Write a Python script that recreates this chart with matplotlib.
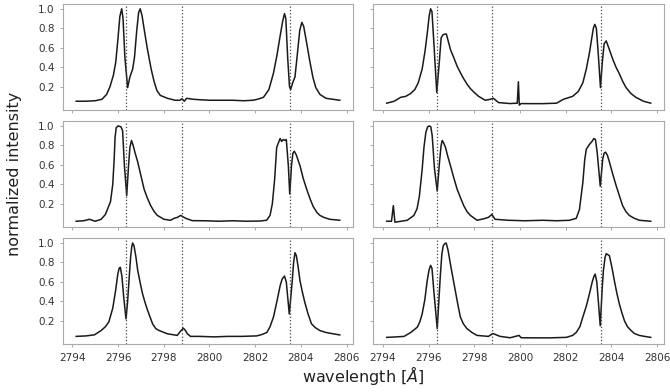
import numpy as np
import matplotlib.pyplot as plt

# line centres marked in every panel (Mg II k, subordinate, Mg II h)
line_centres = [2796.35, 2798.78, 2803.53]

wl_a = [2794.17, 2794.6, 2795.0, 2795.3, 2795.5, 2795.65, 2795.8, 2795.9, 2796.0, 2796.08,
        2796.16, 2796.22, 2796.3, 2796.42, 2796.52, 2796.64, 2796.72, 2796.82, 2796.9, 2796.97,
        2797.05, 2797.15, 2797.29, 2797.45, 2797.58, 2797.7, 2797.85, 2798.16, 2798.5, 2798.7,
        2798.8, 2798.9, 2799.0, 2799.15, 2799.3, 2799.6, 2800.0, 2800.5, 2801.0, 2801.5,
        2801.9, 2802.1, 2802.36, 2802.6, 2802.8, 2802.95, 2803.09, 2803.2, 2803.28, 2803.34,
        2803.42, 2803.5, 2803.55, 2803.64, 2803.74, 2803.85, 2803.95, 2804.04, 2804.12, 2804.25,
        2804.39, 2804.52, 2804.65, 2804.83, 2805.1, 2805.4, 2805.7]
int_a = [0.05, 0.05, 0.055, 0.07, 0.12, 0.2, 0.32, 0.45, 0.7, 0.92,
         1.0, 0.9, 0.5, 0.19, 0.3, 0.38, 0.5, 0.78, 0.96, 1.0,
         0.93, 0.78, 0.58, 0.38, 0.25, 0.16, 0.11, 0.08, 0.06, 0.06,
         0.075, 0.05, 0.08, 0.075, 0.07, 0.065, 0.06, 0.06, 0.06, 0.055,
         0.06, 0.07, 0.09, 0.17, 0.34, 0.52, 0.72, 0.87, 0.95, 0.9,
         0.5, 0.2, 0.17, 0.24, 0.3, 0.55, 0.78, 0.86, 0.82, 0.65,
         0.46, 0.3, 0.19, 0.12, 0.08, 0.07, 0.06]

wl_b = [2794.17, 2794.5, 2794.78, 2795.0, 2795.22, 2795.4, 2795.55, 2795.72, 2795.85, 2795.95,
        2796.03, 2796.09, 2796.15, 2796.22, 2796.36, 2796.47, 2796.55, 2796.62, 2796.7, 2796.78,
        2796.87, 2796.96, 2797.1, 2797.25, 2797.4, 2797.54, 2797.7, 2797.83, 2798.0, 2798.19,
        2798.48, 2798.7, 2798.84, 2799.06, 2799.57, 2799.88, 2799.93, 2799.97, 2800.05, 2800.5,
        2801.0, 2801.6, 2801.9, 2802.3, 2802.55, 2802.75, 2802.9, 2803.04, 2803.14, 2803.21,
        2803.27, 2803.34, 2803.42, 2803.52, 2803.6, 2803.68, 2803.77, 2803.88, 2804.06, 2804.2,
        2804.35, 2804.5, 2804.64, 2804.85, 2805.07, 2805.4, 2805.72]
int_b = [0.03, 0.05, 0.09, 0.1, 0.13, 0.17, 0.24, 0.38, 0.57, 0.76,
         0.93, 1.0, 0.97, 0.7, 0.14, 0.45, 0.7, 0.73, 0.74, 0.74,
         0.66, 0.58, 0.5, 0.41, 0.34, 0.28, 0.22, 0.18, 0.14, 0.1,
         0.06, 0.07, 0.08, 0.036, 0.026, 0.03, 0.25, 0.01, 0.026, 0.025,
         0.025, 0.03, 0.07, 0.1, 0.15, 0.24, 0.38, 0.55, 0.7, 0.8,
         0.84, 0.8, 0.55, 0.19, 0.45, 0.64, 0.67, 0.6, 0.48, 0.4,
         0.33, 0.25, 0.19, 0.13, 0.09, 0.05, 0.03]

wl_c = [2794.17, 2794.5, 2794.75, 2795.0, 2795.26, 2795.45, 2795.55, 2795.67, 2795.77, 2795.83,
        2795.87, 2795.92, 2796.0, 2796.13, 2796.2, 2796.28, 2796.38, 2796.46, 2796.52, 2796.59,
        2796.66, 2796.75, 2796.86, 2797.0, 2797.14, 2797.28, 2797.43, 2797.58, 2797.72, 2798.01,
        2798.3, 2798.45, 2798.6, 2798.74, 2798.96, 2799.25, 2799.8, 2800.4, 2801.0, 2801.6,
        2802.2, 2802.5, 2802.65, 2802.75, 2802.85, 2802.94, 2803.09, 2803.16, 2803.23, 2803.3,
        2803.36, 2803.45, 2803.51, 2803.59, 2803.65, 2803.71, 2803.8, 2803.96, 2804.1, 2804.25,
        2804.4, 2804.54, 2804.7, 2804.83, 2805.0, 2805.26, 2805.7]
int_c = [0.02, 0.025, 0.04, 0.02, 0.04, 0.09, 0.15, 0.22, 0.4, 0.65,
         0.88, 0.98, 1.0, 0.99, 0.95, 0.59, 0.285, 0.59, 0.78, 0.85,
         0.8, 0.72, 0.63, 0.49, 0.35, 0.26, 0.18, 0.12, 0.08, 0.04,
         0.03, 0.05, 0.06, 0.08, 0.05, 0.026, 0.025, 0.02, 0.025, 0.02,
         0.022, 0.03, 0.08, 0.2, 0.45, 0.78, 0.87, 0.84, 0.86, 0.85,
         0.86, 0.59, 0.3, 0.6, 0.72, 0.74, 0.7, 0.59, 0.46, 0.35,
         0.25, 0.17, 0.11, 0.08, 0.06, 0.04, 0.03]

wl_d = [2794.17, 2794.38, 2794.46, 2794.53, 2795.07, 2795.36, 2795.5, 2795.6, 2795.72, 2795.8,
        2795.88, 2795.96, 2796.03, 2796.1, 2796.16, 2796.26, 2796.38, 2796.48, 2796.55, 2796.6,
        2796.67, 2796.74, 2796.85, 2796.96, 2797.1, 2797.25, 2797.4, 2797.54, 2797.68, 2797.83,
        2798.12, 2798.41, 2798.62, 2798.77, 2798.91, 2799.5, 2800.2, 2801.0, 2801.6, 2802.17,
        2802.46, 2802.6, 2802.75, 2802.83, 2802.9, 2803.04, 2803.15, 2803.23, 2803.3, 2803.38,
        2803.51, 2803.62, 2803.68, 2803.74, 2803.82, 2803.91, 2804.05, 2804.2, 2804.35, 2804.49,
        2804.63, 2804.78, 2805.0, 2805.22, 2805.72]
int_d = [0.02, 0.02, 0.18, 0.01, 0.03, 0.08, 0.15, 0.28, 0.55, 0.78,
         0.93, 0.99, 1.0, 0.99, 0.9, 0.56, 0.33, 0.63, 0.8, 0.85,
         0.82, 0.78, 0.68, 0.59, 0.47, 0.35, 0.26, 0.18, 0.12, 0.08,
         0.03, 0.045, 0.06, 0.09, 0.04, 0.03, 0.025, 0.03, 0.025, 0.03,
         0.05, 0.14, 0.42, 0.65, 0.76, 0.81, 0.84, 0.87, 0.86, 0.72,
         0.38, 0.66, 0.72, 0.73, 0.7, 0.63, 0.51, 0.39, 0.28, 0.18,
         0.12, 0.08, 0.05, 0.03, 0.02]

wl_e = [2794.17, 2794.6, 2794.97, 2795.26, 2795.45, 2795.6, 2795.77, 2795.9, 2795.99, 2796.05,
        2796.1, 2796.17, 2796.25, 2796.35, 2796.42, 2796.49, 2796.55, 2796.6, 2796.64, 2796.7,
        2796.78, 2796.86, 2796.96, 2797.07, 2797.18, 2797.29, 2797.4, 2797.51, 2797.65, 2797.8,
        2798.16, 2798.59, 2798.72, 2798.86, 2798.95, 2799.03, 2799.17, 2799.6, 2800.2, 2800.8,
        2801.4, 2802.07, 2802.3, 2802.51, 2802.65, 2802.8, 2802.95, 2803.09, 2803.18, 2803.28,
        2803.36, 2803.49, 2803.56, 2803.62, 2803.68, 2803.74, 2803.8, 2803.88, 2803.96, 2804.06,
        2804.17, 2804.3, 2804.46, 2804.63, 2804.83, 2805.1, 2805.4, 2805.7]
int_e = [0.04, 0.045, 0.056, 0.1, 0.14, 0.19, 0.33, 0.52, 0.68, 0.74,
         0.75, 0.66, 0.44, 0.22, 0.4, 0.65, 0.85, 0.96, 1.0, 0.97,
         0.86, 0.72, 0.6, 0.48, 0.39, 0.31, 0.24, 0.17, 0.12, 0.1,
         0.067, 0.05, 0.09, 0.125, 0.1, 0.067, 0.04, 0.04, 0.035, 0.04,
         0.04, 0.045, 0.06, 0.08, 0.14, 0.24, 0.4, 0.56, 0.63, 0.66,
         0.6, 0.27, 0.45, 0.61, 0.8, 0.9, 0.87, 0.75, 0.61, 0.5,
         0.39, 0.28, 0.17, 0.13, 0.1, 0.08, 0.067, 0.055]

wl_f = [2794.17, 2794.6, 2794.93, 2795.22, 2795.51, 2795.62, 2795.72, 2795.84, 2795.94, 2796.02,
        2796.09, 2796.15, 2796.23, 2796.38, 2796.45, 2796.52, 2796.58, 2796.64, 2796.7, 2796.77,
        2796.85, 2796.96, 2797.06, 2797.17, 2797.28, 2797.39, 2797.52, 2797.68, 2797.9, 2798.12,
        2798.62, 2798.81, 2799.13, 2799.57, 2799.96, 2800.05, 2800.6, 2801.3, 2802.03, 2802.3,
        2802.46, 2802.62, 2802.75, 2802.9, 2803.04, 2803.16, 2803.24, 2803.29, 2803.36, 2803.51,
        2803.6, 2803.65, 2803.72, 2803.77, 2803.84, 2803.91, 2804.02, 2804.13, 2804.24, 2804.35,
        2804.46, 2804.57, 2804.7, 2804.86, 2805.0, 2805.22, 2805.45, 2805.72]
int_f = [0.03, 0.035, 0.04, 0.08, 0.135, 0.19, 0.27, 0.42, 0.61, 0.72,
         0.77, 0.74, 0.51, 0.12, 0.4, 0.68, 0.88, 0.97, 0.99, 1.0,
         0.93, 0.78, 0.65, 0.51, 0.37, 0.24, 0.17, 0.12, 0.08, 0.05,
         0.04, 0.07, 0.04, 0.026, 0.05, 0.026, 0.025, 0.025, 0.03, 0.05,
         0.08, 0.14, 0.24, 0.35, 0.48, 0.6, 0.66, 0.68, 0.6, 0.15,
         0.55, 0.72, 0.85, 0.89, 0.88, 0.87, 0.75, 0.61, 0.48, 0.37,
         0.28, 0.2, 0.14, 0.1, 0.07, 0.05, 0.04, 0.03]

spectra = [(wl_a, int_a), (wl_b, int_b),
           (wl_c, int_c), (wl_d, int_d),
           (wl_e, int_e), (wl_f, int_f)]

fig, axes = plt.subplots(3, 2, figsize=(6.7, 3.92), dpi=100, sharex=True, sharey=True)
fig.subplots_adjust(left=0.094, right=0.991, top=0.99, bottom=0.122,
                    wspace=0.069, hspace=0.104)

for ax, (wl, inten) in zip(axes.flat, spectra):
    ax.plot(wl, inten, color='#1a1a1a', lw=1.1)
    for c in line_centres:
        ax.axvline(c, color='#444444', ls=':', lw=0.9)
    for s in ax.spines.values():
        s.set_color('#aaaaaa')
        s.set_linewidth(0.8)
    ax.tick_params(labelsize=7.5, colors='#333333', length=2.5, width=0.6)
    ax.tick_params(color='#999999')

axes[0, 0].set_xticks(np.arange(2794, 2807, 2))
axes[0, 0].set_yticks([0.2, 0.4, 0.6, 0.8, 1.0])
axes[0, 0].set_ylim(-0.04, 1.05)

fig.text(0.022, 0.556, 'normalized intensity', rotation=90, ha='center', va='center',
         fontsize=11.5, color='#222222')
fig.text(0.542, 0.043, r'wavelength [$\AA$]', ha='center', va='center',
         fontsize=11.5, color='#222222')

plt.savefig('out.png')
